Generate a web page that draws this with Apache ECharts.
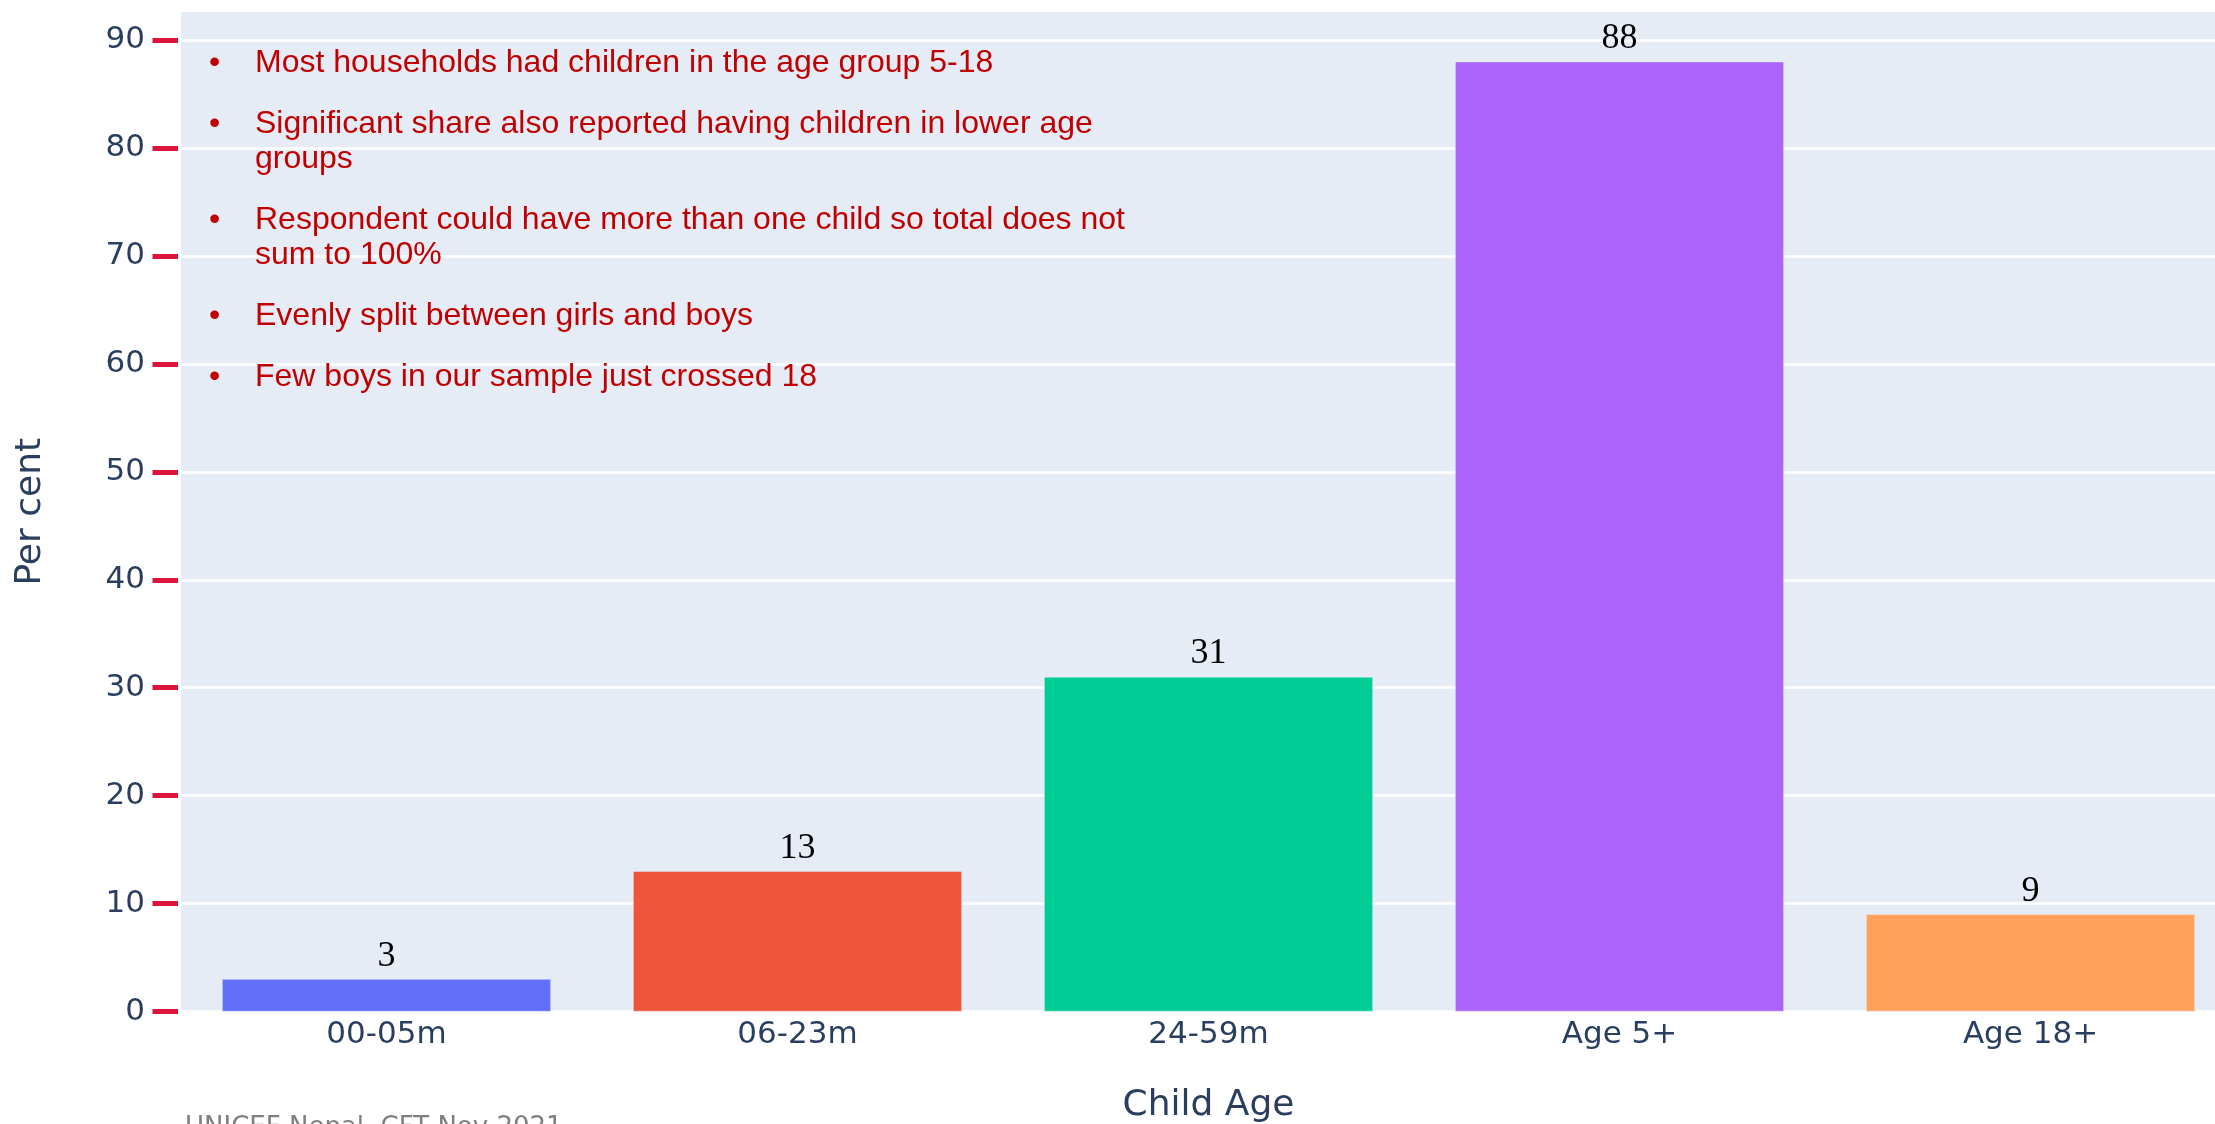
<!DOCTYPE html>
<html>
<head>
<meta charset="utf-8">
<script src="https://cdn.jsdelivr.net/npm/echarts@6/dist/echarts.min.js"></script>
<style>
  html, body { margin: 0; padding: 0; background: #ffffff; overflow: hidden; }
  #chart { width: 2236px; height: 1124px; }
</style>
</head>
<body>
<div id="chart"></div>
<script>
// Share of households (%) with a child in each age group
const categories = ['00-05m', '06-23m', '24-59m', 'Age 5+', 'Age 18+'];
const shares = [3, 13, 31, 88, 9];
const barColors = ['#636efa', '#EF553B', '#00cc96', '#ab63fa', '#FFA15A'];
const yTicks = [0, 10, 20, 30, 40, 50, 60, 70, 80, 90];

// Key points, one entry per bullet (each entry holds its wrapped lines)
const notes = [
  ['Most households had children in the age group 5-18'],
  ['Significant share also reported having children in lower age', 'groups'],
  ['Respondent could have more than one child so total does not', 'sum to 100%'],
  ['Evenly split between girls and boys'],
  ['Few boys in our sample just crossed 18']
];
const sourceNote = 'UNICEF Nepal, CFT Nov 2021';

const axisInk = '#2a3f5f';
const axisFont = '"DejaVu Sans", Verdana, sans-serif';
const noteInk = '#C00000';
const noteFont = '32px "Liberation Sans", Arial, sans-serif';

// Build bullet text elements
const graphics = [];
let lineY = 62.7;
const lineStep = 35;
const paraStep = 61;
notes.forEach(function (lines) {
  graphics.push({
    type: 'text', x: 209, y: lineY, silent: true, z: 100,
    style: { text: '\u2022', font: noteFont, fill: noteInk, verticalAlign: 'middle' }
  });
  lines.forEach(function (ln, i) {
    graphics.push({
      type: 'text', x: 255, y: lineY + i * lineStep, silent: true, z: 100,
      style: { text: ln, font: noteFont, fill: noteInk, verticalAlign: 'middle' }
    });
  });
  lineY += (lines.length - 1) * lineStep + paraStep;
});
graphics.push({
  type: 'text', x: 185, y: 1128, silent: true, z: 100,
  style: { text: sourceNote, font: '26px ' + axisFont, fill: '#7f7f7f', verticalAlign: 'middle' }
});

const chart = echarts.init(document.getElementById('chart'), null, { renderer: 'canvas' });
chart.setOption({
  animation: false,
  backgroundColor: '#ffffff',
  grid: {
    left: 181, right: 0, top: 12, bottom: 112.5,
    outerBoundsMode: 'none',
    containLabel: false,
    show: true, backgroundColor: '#E5ECF6', borderWidth: 0
  },
  xAxis: {
    type: 'category',
    data: categories,
    axisLine: { show: false },
    axisTick: { show: false },
    axisLabel: {
      color: axisInk, fontSize: 31, fontFamily: axisFont, margin: 8
    },
    name: 'Child Age',
    nameLocation: 'middle',
    nameGap: 76,
    nameTextStyle: { color: axisInk, fontSize: 36, fontFamily: axisFont }
  },
  yAxis: {
    type: 'value',
    min: 0,
    max: 92.6,
    offset: 3,
    axisLine: { show: false },
    axisTick: {
      show: true, length: 25.5, customValues: yTicks,
      lineStyle: { color: '#DC143C', width: 5 }
    },
    axisLabel: {
      customValues: yTicks,
      color: axisInk, fontSize: 31, fontFamily: axisFont, margin: 33
    },
    splitLine: { show: true, lineStyle: { color: '#ffffff', width: 2.6 } },
    name: 'Per cent',
    nameLocation: 'middle',
    nameGap: 129,
    nameTextStyle: { color: axisInk, fontSize: 36, fontFamily: axisFont }
  },
  series: [{
    type: 'bar',
    barCategoryGap: '20%',
    data: shares.map(function (v, i) {
      return { value: v, itemStyle: { color: barColors[i] } };
    }),
    itemStyle: { borderColor: '#E5ECF6', borderWidth: 0.5 },
    label: {
      show: true,
      position: 'top',
      distance: 5,
      color: '#000000',
      fontSize: 36,
      fontFamily: '"Liberation Serif", "Times New Roman", serif'
    }
  }],
  graphic: graphics
});
</script>
</body>
</html>
